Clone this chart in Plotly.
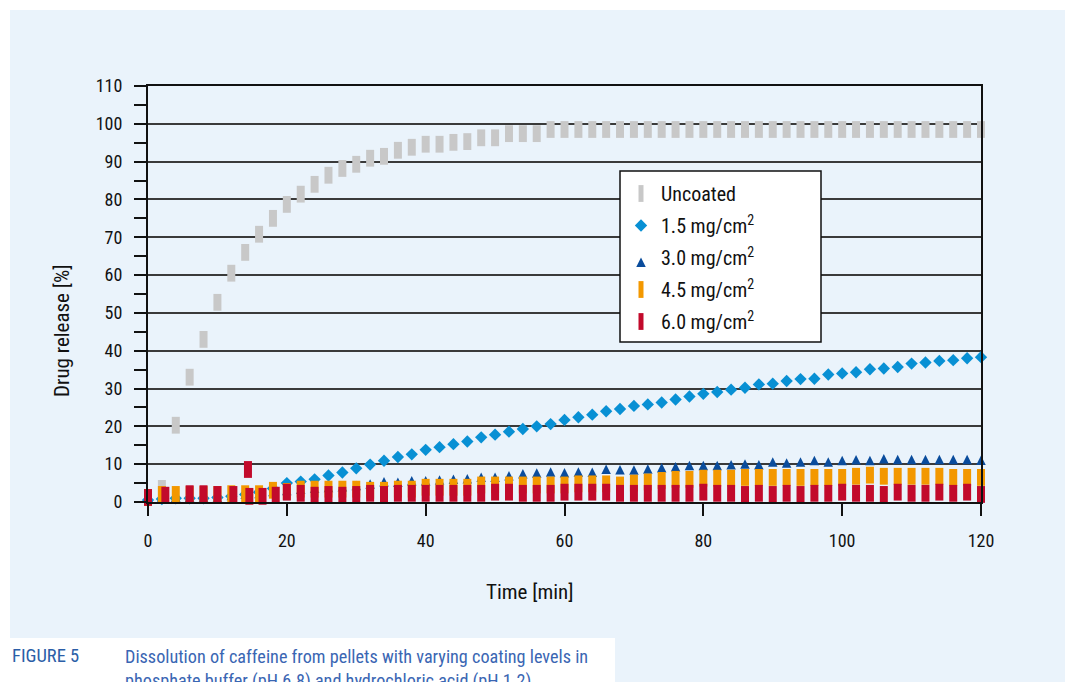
import plotly.graph_objects as go

# ---------------- data ----------------
time = list(range(0, 121, 2))  # sampling times [min]

uncoated = [None, 3.6, 20.3, 33.0, 43.0, 52.8, 60.5, 66.0, 70.8, 75.0,
            78.7, 81.4, 84.0, 86.4, 88.2, 89.3, 90.9, 91.4, 93.0, 93.8,
            94.6, 94.6, 95.1, 95.3, 96.3, 96.3, 97.4, 97.4, 97.4] + [98.5] * 32

coat_15 = [0.5, 0.8, 1.0, 1.0, 1.0, 1.2, 1.5, 2.0, 2.6, 3.6,
           5.0, 5.4, 6.0, 7.0, 7.8, 8.9, 9.9, 10.9, 11.9, 12.6,
           13.8, 14.5, 15.3, 16.0, 17.1, 17.8, 18.6, 19.3, 20.0,
           20.6, 21.7, 22.4, 23.1, 24.0, 24.6, 25.4, 25.8, 26.3, 27.1,
           27.9, 28.6, 29.1, 29.7, 30.2, 31.1, 31.3, 32.0, 32.5, 32.6,
           33.7, 34.0, 34.3, 35.1, 35.3, 35.7, 36.6, 36.9, 37.3, 37.5,
           38.0, 38.3]

coat_30 = [2.5, 2.5, 2.5, 2.5, 2.5, 2.5, 3.0, 3.3, 3.5, 4.0,
           4.3, 4.6, 4.9, 5.1, 5.3, 5.6, 6.0, 6.6, 6.5, 6.9,
           6.9, 7.1, 7.3, 7.4, 7.8, 7.8, 8.2, 8.7, 8.9, 9.2,
           9.0, 9.2, 9.1, 9.9, 9.8, 9.7, 10.0, 10.3, 10.6, 10.9,
           10.9, 10.9, 11.1, 11.3, 11.1, 11.8, 11.6, 11.8, 12.2, 11.8,
           12.2, 12.4, 12.2, 12.7, 12.5, 12.5, 12.5, 12.5, 12.5, 12.5,
           12.3]

coat_45 = [1.2, 2.0, 2.0, 2.0, 2.0, 2.0, 2.2, 2.2, 2.2, 3.1,
           2.8, 3.4, 3.4, 3.4, 3.4, 3.4, 3.1, 3.1, 3.4, 3.4,
           3.9, 3.9, 3.9, 3.9, 4.5, 4.5, 4.5, 4.5, 4.5, 4.5,
           4.5, 4.8, 4.8, 4.8, 4.5, 5.0, 5.3, 5.7, 6.0, 6.0,
           6.3, 6.3, 6.3, 6.5, 6.5, 6.5, 6.5, 6.5, 6.5, 6.5,
           6.5, 6.8, 7.1, 6.8, 6.8, 6.8, 6.8, 6.8, 6.5, 6.5,
           6.5]

time_60 = [0, 2.5, 6, 8, 10, 12.3, 14.4, 14.6, 16.5, 18.4] + list(range(20, 121, 2))
coat_60 = [1.2, 1.8, 2.2, 2.2, 2.0, 2.0, 8.6, 1.5, 1.5, 1.8,
           2.6, 2.3, 1.8, 2.0, 1.8, 2.0, 2.3, 2.0, 2.3, 2.3,
           2.3, 2.3, 2.3, 2.3, 2.3, 2.6, 2.6, 2.3, 2.3, 2.3,
           2.6, 2.6, 2.6, 2.6, 2.3, 2.3, 2.3, 2.3, 2.3, 2.3,
           2.6, 2.3, 2.3, 2.0, 2.3, 2.0, 2.3, 2.0, 2.3, 2.3,
           2.6, 2.3, 2.3, 2.0, 2.6, 2.3, 2.3, 2.6, 2.3, 2.6,
           2.0]

x_ticks = [0, 20, 40, 60, 80, 100, 120]

# ---------------- styling ----------------
W, H = 1071, 682
ML, MR, MT, MB = 148, 90, 86, 180
FONT = "Liberation Sans Narrow, Arial Narrow, Roboto Condensed, Liberation Sans, sans-serif"
PANEL = "#eaf3fb"
GRAY, CYAN, NAVY, ORANGE, RED = "#c8c8c8", "#0890d4", "#0a4c9c", "#f39800", "#c20a2b"


def px(x):
    return (x - ML) / (W - ML - MR)


def py(y):
    return 1 - (y - MT) / (H - MT - MB)


def bar_marker(color):
    return dict(symbol="line-ns", size=12, color=color, line=dict(width=8, color=color))


fig = go.Figure()
fig.add_trace(go.Scatter(x=time, y=uncoated, mode="markers", name="Uncoated",
                         legendgroup="a", marker=bar_marker(GRAY), cliponaxis=False))
fig.add_trace(go.Scatter(x=time, y=coat_15, mode="markers", name="1.5 mg/cm<sup>2</sup>",
                         legendgroup="b", cliponaxis=False,
                         marker=dict(symbol="diamond", size=9.5, color=CYAN, line=dict(width=0))))
fig.add_trace(go.Scatter(x=time, y=coat_30, mode="markers", name="3.0 mg/cm<sup>2</sup>",
                         legendgroup="c", cliponaxis=False,
                         marker=dict(symbol="arrow-up", size=9.5, color=NAVY, line=dict(width=0))))
fig.add_trace(go.Scatter(x=time, y=coat_45, mode="markers", name="4.5 mg/cm<sup>2</sup>",
                         legendgroup="d", marker=bar_marker(ORANGE), cliponaxis=False))
fig.add_trace(go.Scatter(x=time_60, y=coat_60, mode="markers", name="6.0 mg/cm<sup>2</sup>",
                         legendgroup="e", marker=bar_marker(RED), cliponaxis=False))

shapes = [
    # white page edges around the tinted panel
    dict(type="rect", xref="paper", yref="paper", x0=px(0), x1=px(W), y0=py(0), y1=py(10),
         fillcolor="white", line=dict(width=0), layer="above"),
    dict(type="rect", xref="paper", yref="paper", x0=px(0), x1=px(10), y0=py(0), y1=py(H),
         fillcolor="white", line=dict(width=0), layer="above"),
    dict(type="rect", xref="paper", yref="paper", x0=px(1065), x1=px(W), y0=py(0), y1=py(H),
         fillcolor="white", line=dict(width=0), layer="above"),
    dict(type="rect", xref="paper", yref="paper", x0=px(0), x1=px(615), y0=py(638), y1=py(H),
         fillcolor="white", line=dict(width=0), layer="above"),
    # legend frame
    dict(type="rect", xref="paper", yref="paper", x0=px(620), x1=px(821), y0=py(171), y1=py(342),
         fillcolor="white", line=dict(width=1.5, color="#111"), layer="above"),
]

annotations = [
    dict(text="Time [min]", xref="paper", yref="paper", x=px(530), y=py(592),
         xanchor="center", yanchor="middle", showarrow=False,
         font=dict(family=FONT, size=21, color="#111")),
    dict(text="Drug release [%]", xref="paper", yref="paper", x=px(62), y=py(331),
         xanchor="center", yanchor="middle", showarrow=False, textangle=-90,
         font=dict(family=FONT, size=21, color="#111")),
    dict(text="FIGURE 5", xref="paper", yref="paper", x=px(10), y=py(656),
         xanchor="left", yanchor="middle", showarrow=False,
         font=dict(family=FONT, size=18.5, color="#2b5ea7")),
    dict(text="Dissolution of caffeine from pellets with varying coating levels in<br>"
              "phosphate buffer (pH 6.8) and hydrochloric acid (pH 1.2)",
         xref="paper", yref="paper", x=px(123), y=py(644), xanchor="left", yanchor="top",
         align="left", showarrow=False, font=dict(family=FONT, size=18.2, color="#3a66b3")),
]

fig.update_layout(
    width=W, height=H,
    margin=dict(l=ML, r=MR, t=MT, b=MB, pad=0),
    paper_bgcolor=PANEL, plot_bgcolor=PANEL,
    font=dict(family=FONT, size=17, color="#111"),
    showlegend=True,
    legend=dict(x=px(621), y=py(174), xanchor="left", yanchor="top",
                bgcolor="rgba(0,0,0,0)", borderwidth=0, tracegroupgap=3,
                font=dict(family=FONT, size=20, color="#111")),
    shapes=shapes,
    annotations=annotations,
    xaxis=dict(range=[0, 120], tickvals=x_ticks, ticks="outside", ticklen=12, tickwidth=1.5,
               tickcolor="#111", showline=True, linecolor="#111", linewidth=2, mirror=True,
               showgrid=False, zeroline=False, ticklabelstandoff=9,
               tickfont=dict(family=FONT, size=18, color="#111")),
    yaxis=dict(range=[0, 110], dtick=10, tick0=0, ticks="outside", ticklen=12, tickwidth=1.5,
               tickcolor="#111", showline=True, linecolor="#111", linewidth=2, mirror=True,
               showgrid=True, gridcolor="#3a3a3a", gridwidth=1.5, zeroline=False,
               ticklabelstandoff=8,
               minor=dict(dtick=5, tick0=0, ticks="outside", ticklen=12, tickwidth=1.5,
                          tickcolor="#111", showgrid=False),
               tickfont=dict(family=FONT, size=18, color="#111")),
)

fig.write_html("out.html")
